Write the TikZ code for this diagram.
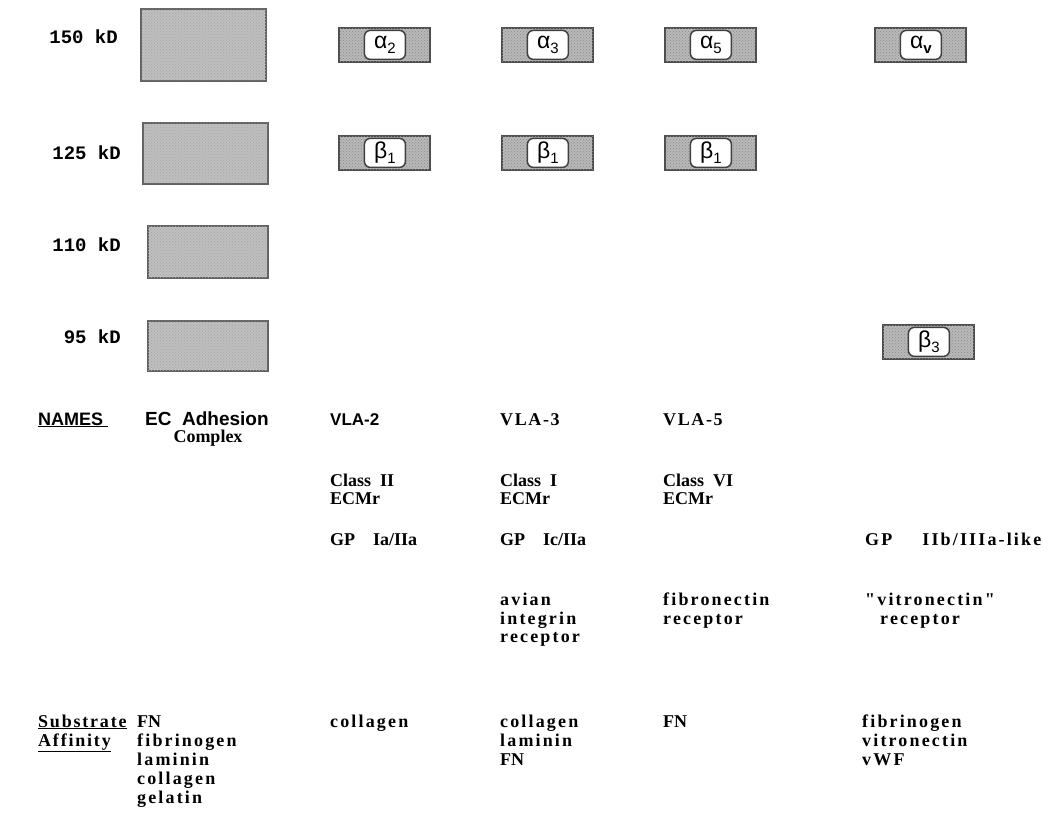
\documentclass[tikz,border=0pt]{standalone}
\usepackage{fontspec}
\setmainfont{Liberation Serif}
\newfontfamily\hv{Liberation Sans}
\newfontfamily\cour{Liberation Mono}
\newfontfamily\trs[LetterSpace=12]{Liberation Serif}
\newfontfamily\trsv[LetterSpace=9]{Liberation Serif}
\newfontfamily\trsl[LetterSpace=10]{Liberation Serif}
\usetikzlibrary{patterns}
\begin{document}
\begin{tikzpicture}[x=1pt,y=-1pt,
  bigbox/.style={draw=black!62, line width=2pt, fill=black!25, minimum width=125pt, anchor=north west, inner sep=0pt,
     postaction={pattern=crosshatch dots, pattern color=black!35}},
  subbox/.style={draw=black!70, line width=1.8pt, fill=black!28, minimum width=91pt, minimum height=34pt, anchor=north west, inner sep=0pt,
     postaction={pattern=crosshatch dots, pattern color=black!45}},
  subin/.style={draw=black!75, line width=1.5pt, fill=white, rounded corners=6pt, minimum width=41pt, minimum height=29pt, inner sep=0pt, font=\hv\fontsize{23}{23}\selectfont},
  kd/.style={anchor=base east, inner sep=0pt, font=\cour\bfseries\fontsize{19}{19}\selectfont},
  lab/.style={anchor=base west, inner sep=0pt, font=\bfseries\fontsize{18}{18}\selectfont},
  labs/.style={anchor=base west, inner sep=0pt, font=\trs\bfseries\fontsize{18}{18}\selectfont},
  hlab/.style={anchor=base west, inner sep=0pt, font=\hv\bfseries\fontsize{17}{17}\selectfont}]
\useasboundingbox (0,0) rectangle (1058,834);
% molecular weight labels
\node[kd] (k150) at (118,44) {150 kD};
\node[kd] (k125) at (121,160) {125 kD};
\node[kd] (k110) at (121,252) {110 kD};
\node[kd] (k95)  at (121,344) {95 kD};
% EC adhesion complex bands
\node[bigbox, minimum height=72pt] (b150) at (140,8) {};
\node[bigbox, minimum height=61pt] (b125) at (142,122) {};
\node[bigbox, minimum width=120pt, minimum height=52pt] (b110) at (147,225) {};
\node[bigbox, minimum width=120pt, minimum height=50pt] (b95) at (147,320) {};
% subunits
\newcommand{\subunit}[4]{%
  \node[subbox] (#1) at (#2,#3) {};
  \node[subin] (#1in) at ([xshift=0.5pt]#1.center) {\raisebox{2.5pt}{#4}};}
\newcommand{\sbs}[1]{\raisebox{-5pt}{\fontsize{15}{15}\selectfont #1}}
\subunit{a2}{338}{27}{α\sbs{2}}
\subunit{a3}{501}{27}{α\sbs{3}}
\subunit{a5}{664}{27}{α\sbs{5}}
\subunit{av}{874}{27}{α\sbs{\bfseries v}}
\subunit{b1a}{338}{135}{β\sbs{1}}
\subunit{b1b}{501}{135}{β\sbs{1}}
\subunit{b1c}{664}{135}{β\sbs{1}}
\subunit{b3}{882}{324}{β\sbs{3}}
% NAMES row
\node[hlab, font=\hv\bfseries\fontsize{18}{18}\selectfont] (names) at (38,425) {\underline{NAMES\ }};
\node[hlab, font=\hv\bfseries\fontsize{19}{19}\selectfont] (ec) at (145,425) {EC\ \ Adhesion};
\node[lab, anchor=base] (cx) at (208,442) {Complex};
\node[hlab] (vla2) at (330,425) {VLA-2};
\node[labs, font=\trsv\bfseries\fontsize{18}{18}\selectfont] (vla3) at (500,425) {VLA-3};
\node[labs, font=\trsv\bfseries\fontsize{18}{18}\selectfont] (vla5) at (663,425) {VLA-5};
\node[lab] (c2) at (330,486) {Class\ \ II};
\node[lab] (e2) at (330,504) {ECMr};
\node[lab] (c3) at (500,486) {Class\ \ I};
\node[lab] (e3) at (500,504) {ECMr};
\node[lab] (c5) at (663,486) {Class\ \ VI};
\node[lab] (e5) at (663,504) {ECMr};
\node[lab] (gp2) at (330,545) {GP\hspace{18pt}Ia/IIa};
\node[lab] (gp3) at (500,545) {GP\hspace{18pt}Ic/IIa};
\node[labs] (gpv) at (865,545) {GP\hspace{30pt}IIb/IIIa-like};
\node[labs] (av1) at (500,605) {avian};
\node[labs] (av2) at (500,624) {integrin};
\node[labs] (av3) at (500,642) {receptor};
\node[labs] (fr1) at (663,605) {fibronectin};
\node[labs] (fr2) at (663,624) {receptor};
\node[labs] (vr1) at (865,605) {"vitronectin"};
\node[labs] (vr2) at (880,624) {receptor};
% Substrate affinity
\node[lab, font=\trsl\bfseries\fontsize{18}{18}\selectfont] (sub1) at (38,727) {\underline{Substrate}};
\node[lab, font=\trsl\bfseries\fontsize{18}{18}\selectfont] (sub2) at (38,746) {\underline{Affinity}};
\node[lab] (ec1) at (137,727) {FN};
\node[labs] (ec2) at (137,746) {fibrinogen};
\node[labs] (ec3) at (137,765) {laminin};
\node[labs] (ec4) at (137,784) {collagen};
\node[labs] (ec5) at (137,803) {gelatin};
\node[labs] (s2) at (330,727) {collagen};
\node[labs] (s31) at (500,727) {collagen};
\node[labs] (s32) at (500,746) {laminin};
\node[lab] (s33) at (500,765) {FN};
\node[lab] (s5) at (663,727) {FN};
\node[labs] (sv1) at (862,727) {fibrinogen};
\node[labs] (sv2) at (862,746) {vitronectin};
\node[labs] (sv3) at (862,765) {vWF};
\end{tikzpicture}
\end{document}
